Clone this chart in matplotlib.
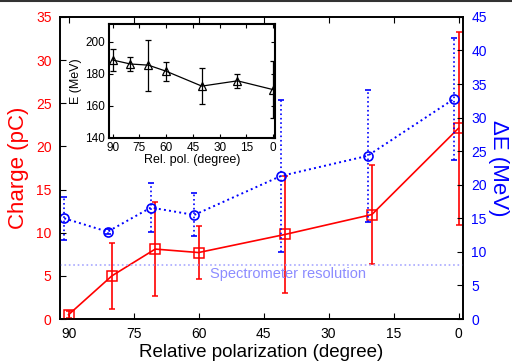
import matplotlib
matplotlib.use("Agg")
import matplotlib.pyplot as plt
from matplotlib.lines import Line2D

plt.rcParams['font.family'] = ['Liberation Sans', 'DejaVu Sans']

# main plot data
pol = [90, 80, 70, 60, 40, 20, 0]
pol_de = [91, 81, 71, 61, 41, 21, 1]
charge = [0.5, 5.0, 8.1, 7.7, 9.8, 12.1, 22.1]
charge_err = [0.4, 3.85, 5.4, 3.05, 6.8, 5.7, 11.2]
dE = [15.0, 13.0, 16.6, 15.5, 21.3, 24.3, 32.8]
dE_err = [3.2, 0.4, 3.6, 3.2, 11.3, 9.8, 9.1]
resolution = 8.0

# inset data
energy = [188.5, 186.0, 185.3, 181.5, 172.2, 175.5, 170.0]
energy_err = [7.0, 4.5, 16.0, 6.0, 11.3, 4.3, 18.0]

red = '#ff0000'
blue = '#0000ff'

fig = plt.figure(figsize=(5.12, 3.61), dpi=100)
ax = fig.add_axes([0.117, 0.1163, 0.787, 0.837])
ax2 = ax.twinx()

ax.errorbar(pol, charge, yerr=charge_err, color=red, lw=1.2, marker='s',
            ms=7, mfc='none', mec=red, mew=1.1, capsize=2.5, elinewidth=1.2,
            zorder=3)
eb = ax2.errorbar(pol_de, dE, yerr=dE_err, color=blue, lw=1.4, ls=':',
                  marker='o', ms=6.5, mfc='none', mec=blue, mew=1.2,
                  capsize=2.5, elinewidth=1.2)
for c in eb[2]:
    c.set_linestyle(':')
ax2.axhline(resolution, color='#a8a8ff', lw=1.2, ls=':', zorder=1)
ax2.text(39.3, resolution - 0.3, 'Spectrometer resolution', color='#8c8cff',
         fontsize=10.5, ha='center', va='top')

ax.set_xlim(92, -1)
ax.set_ylim(0, 35)
ax2.set_ylim(0, 45)
ax.set_xticks([90, 75, 60, 45, 30, 15, 0])
ax.set_yticks(range(0, 36, 5))
ax2.set_yticks(range(0, 46, 5))

ax.tick_params(axis='x', direction='in', top=True, labelsize=10, length=4,
               pad=6, colors='black')
ax.tick_params(axis='y', direction='in', labelsize=10, length=4,
               labelcolor=red, pad=6)
ax2.tick_params(axis='y', direction='in', labelsize=10, length=4,
                labelcolor=blue, pad=6)

ax.set_xlabel('Relative polarization (degree)', fontsize=13.5, labelpad=2)
ax.set_ylabel('Charge (pC)', color=red, fontsize=16, labelpad=5)
ax2.set_ylabel('ΔE (MeV)', color=blue, fontsize=16, rotation=270,
               labelpad=16)

for a in (ax, ax2):
    for s in a.spines.values():
        s.set_linewidth(1.2)

# inset
ins = fig.add_axes([0.213, 0.6186, 0.324, 0.315])
ins.errorbar(pol, energy, yerr=energy_err, color='black', lw=0.9,
             marker='^', ms=5.5, mfc='none', mec='black', mew=0.9,
             capsize=2.5, elinewidth=0.9)
ins.set_xlim(92, -1)
ins.set_ylim(140, 211)
ins.set_xticks([90, 75, 60, 45, 30, 15, 0])
ins.set_yticks([140, 160, 180, 200])
ins.tick_params(direction='in', top=True, right=True, labelsize=8.5,
                length=3, pad=3)
ins.set_xlabel('Rel. pol. (degree)', fontsize=9, labelpad=0)
ins.set_ylabel('E (MeV)', fontsize=9, labelpad=2)
for s in ins.spines.values():
    s.set_linewidth(1.5)

fig.add_artist(Line2D([0, 1], [0.997, 0.997], color='#333333', lw=1.5))

fig.savefig('out.png', dpi=100)
